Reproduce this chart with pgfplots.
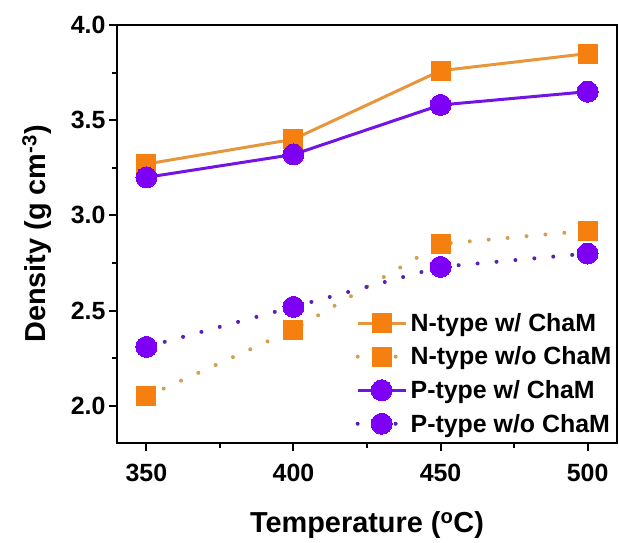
\documentclass[border=0pt]{standalone}
\usepackage{fontspec}
\setmainfont{Liberation Sans}
\usepackage{pgfplots}
\pgfplotsset{compat=1.18}
\definecolor{cor}{RGB}{245,128,16}
\definecolor{corl}{RGB}{232,150,60}
\definecolor{cord}{RGB}{210,160,80}
\definecolor{cpu}{RGB}{125,0,245}
\definecolor{cpul}{RGB}{115,20,230}
\definecolor{cpud}{RGB}{85,35,180}
\begin{document}
\begin{tikzpicture}
\begin{axis}[name=ax, scale only axis, width=500bp, height=418bp,
 xmin=340, xmax=510, ymin=1.805, ymax=4.0,
 xtick={350,400,450,500}, minor xtick={375,425,475},
 ytick={2.0,2.5,3.0,3.5,4.0}, minor ytick={2.25,2.75,3.25,3.75},
 tick align=outside, major tick length=8bp, minor tick length=5bp,
 xtick pos=bottom, ytick pos=left,
 axis line style={line width=2.5bp},
 every tick/.style={line width=2bp, black},
 /pgf/number format/assume math mode=true,
 ticklabel style={font=\bfseries\fontsize{25}{30}\selectfont},
 yticklabel style={/pgf/number format/fixed, /pgf/number format/fixed zerofill, /pgf/number format/precision=1},
 xticklabel style={/pgf/number format/set thousands separator={}, yshift=-10bp},
 label style={font=\bfseries\fontsize{29}{34}\selectfont},
 xlabel={Temperature (\textsuperscript{o}C)},
 ylabel={Density (g cm\textsuperscript{-3})},
 xlabel style={at={(axis description cs:0.5,-0.196)}, anchor=center},
 ylabel style={at={(axis description cs:-0.16,0.5)}, anchor=center},
 legend style={draw=none, fill=none, at={(0.995,0.015)}, anchor=south east,
   font=\bfseries\fontsize{25}{30}\selectfont, row sep=8bp, inner sep=0pt,
   nodes={inner sep=3bp}},
 legend cell align=left,
 legend image code/.code={\draw[mark repeat=2,mark phase=2,#1] plot coordinates {(0bp,0bp)(24bp,0bp)(48bp,0bp)};},
]
\addplot[color=corl, line width=3bp, mark=square*, mark size=9.5bp, mark options={solid, draw=cor, fill=cor, line width=0pt}]
 coordinates {(350,3.27)(400,3.40)(450,3.76)(500,3.85)};
\addlegendentry{N-type w/ ChaM}
\addplot[color=cord, line width=4bp, line cap=round, dash pattern=on 0pt off 19bp, mark=square*, mark size=9.5bp, mark options={solid, draw=cor, fill=cor, line width=0pt}]
 coordinates {(350,2.05)(400,2.40)(450,2.85)(500,2.92)};
\addlegendentry{N-type w/o ChaM}
\addplot[color=cpul, line width=3bp, mark=*, mark size=10.5bp, mark options={solid, draw=cpu, fill=cpu, line width=0pt}]
 coordinates {(350,3.20)(400,3.32)(450,3.58)(500,3.65)};
\addlegendentry{P-type w/ ChaM}
\addplot[color=cpud, line width=4bp, line cap=round, dash pattern=on 0pt off 19bp, mark=*, mark size=10.5bp, mark options={solid, draw=cpu, fill=cpu, line width=0pt}]
 coordinates {(350,2.31)(400,2.52)(450,2.73)(500,2.80)};
\addlegendentry{P-type w/o ChaM}
\end{axis}
\pgfresetboundingbox
\path (ax.south west) ++(-117bp,-100bp) coordinate (bl);
\path (ax.north east) ++(2bp,25bp) coordinate (tr);
\path (bl) rectangle (tr);
\end{tikzpicture}
\end{document}
